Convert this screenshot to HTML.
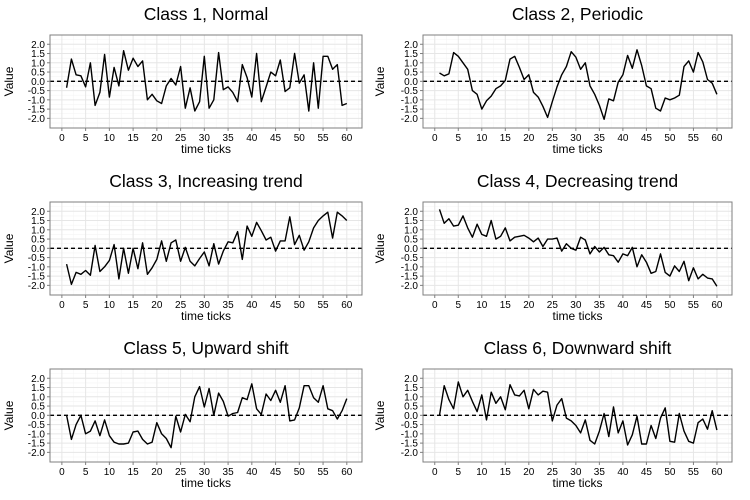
<!DOCTYPE html>
<html><head><meta charset="utf-8"><style>
body{margin:0;background:#fff;}
svg{display:block;font-family:"Liberation Sans",Arial,sans-serif;}
</style></head><body>
<svg id="chart" width="750" height="500"></svg>
<script>
const titles=["Class 1, Normal","Class 2, Periodic","Class 3, Increasing trend","Class 4, Decreasing trend","Class 5, Upward shift","Class 6, Downward shift"];
const yTicks=[2.0,1.5,1.0,0.5,0.0,-0.5,-1.0,-1.5,-2.0];
const xTicks=[0,5,10,15,20,25,30,35,40,45,50,55,60];
const s1=[-0.35,1.2,0.35,0.3,-0.3,1.0,-1.3,-0.6,1.45,-0.85,0.75,-0.25,1.65,0.6,1.25,0.8,1.1,-1.0,-0.7,-1.05,-1.2,-0.25,0.15,-0.2,0.8,-1.45,-0.35,-1.6,-1.1,1.35,-1.45,-1.0,1.55,-0.45,-0.3,-0.6,-1.1,0.9,0.2,-0.85,1.5,-1.1,-0.3,0.5,0.3,1.15,-0.55,-0.35,1.5,-0.1,0.35,-1.6,1.0,-1.45,1.35,1.35,0.65,0.9,-1.3,-1.2];
const s2=[0.45,0.3,0.4,1.55,1.35,1.0,0.65,-0.5,-0.7,-1.5,-1.05,-0.8,-0.4,-0.25,0.05,1.2,1.35,0.75,0.1,0.35,-0.6,-0.85,-1.35,-1.95,-1.1,-0.3,0.35,0.8,1.6,1.3,0.65,1.0,-0.25,-0.7,-1.3,-2.05,-0.95,-1.05,-0.05,0.35,1.4,0.7,1.7,0.85,-0.25,-0.4,-1.45,-1.6,-0.9,-1.0,-0.9,-0.75,0.8,1.1,0.5,1.55,1.05,0.1,-0.1,-0.7];
const s3=[-0.85,-1.95,-1.3,-1.4,-1.2,-1.45,0.15,-1.25,-1.0,-0.65,0.2,-1.65,0.0,-1.35,0.0,-1.1,0.3,-1.4,-1.05,-0.6,0.4,-0.7,0.3,0.45,-0.7,0.05,-0.7,-0.95,-0.55,-0.2,-0.95,0.25,-0.85,-0.15,0.35,0.3,0.9,-0.6,1.2,0.65,1.4,0.95,0.45,0.6,-0.15,0.4,0.4,1.7,0.2,0.7,-0.1,0.35,1.1,1.5,1.75,1.95,0.55,1.95,1.75,1.5];
const s4=[2.1,1.35,1.6,1.2,1.25,1.75,1.1,0.6,1.3,0.75,0.65,1.5,0.5,0.65,1.1,0.4,0.6,0.65,0.7,0.55,0.35,0.55,0.1,0.5,0.5,0.55,-0.15,0.25,0.0,-0.1,0.6,0.45,-0.3,0.1,-0.2,0.05,-0.35,-0.4,-0.75,-0.3,-0.4,0.05,-1.0,-0.35,-0.75,-1.35,-1.25,-0.3,-1.3,-1.5,-0.95,-1.25,-0.7,-1.75,-1.05,-1.65,-1.4,-1.6,-1.65,-2.05];
const s5=[0.0,-1.3,-0.5,0.0,-1.0,-0.85,-0.3,-1.1,-0.25,-1.1,-1.45,-1.55,-1.55,-1.5,-0.9,-0.85,-1.3,-1.55,-1.45,-0.4,-1.0,-1.25,-1.75,-0.05,-0.9,0.05,-0.35,1.0,1.55,0.45,1.45,0.0,1.2,0.75,-0.05,0.1,0.15,0.95,0.85,1.7,0.35,0.05,1.15,0.8,1.35,0.7,1.6,-0.3,-0.25,0.4,1.6,1.6,0.95,0.7,1.6,0.35,0.25,-0.2,0.25,0.9];
const s6=[0.0,1.6,0.85,0.35,1.8,1.0,1.35,0.75,0.2,1.1,-0.25,1.25,0.65,1.0,0.3,1.65,1.1,1.05,1.35,0.35,1.4,1.1,1.3,1.25,-0.3,0.55,0.9,-0.15,-0.3,-0.55,-0.95,-0.25,-1.35,-1.55,-0.85,0.1,-1.15,0.45,-0.95,-0.3,-1.6,-1.05,-0.05,-1.55,-1.55,-0.55,-1.25,-0.15,0.4,-1.4,-1.45,0.1,-0.85,-1.4,-1.5,-0.4,-0.2,-0.75,0.25,-0.8];
const series=[s1,s2,s3,s4,s5,s6];

const NS="http://www.w3.org/2000/svg";
const svg=document.getElementById('chart');
function mk(tag,attrs,parent){const e=document.createElementNS(NS,tag);for(const k in attrs)e.setAttribute(k,attrs[k]);parent.appendChild(e);return e;}
const XMIN=-2.5,XMAX=63.2,YMIN=-2.52,YMAX=2.5;
for(let p=0;p<6;p++){
  const col=p%2,row=Math.floor(p/2);
  const L=col?423:50,R=col?732:362,T=35+row*167,B=128+row*167;
  const xs=v=>L+(v-XMIN)/(XMAX-XMIN)*(R-L);
  const ys=v=>B-(v-YMIN)/(YMAX-YMIN)*(B-T);
  const g=mk('g',{},svg);
  
  
  const t=mk('text',{x:(L+R)/2,y:T-15,'text-anchor':'middle','font-size':'17.5',fill:'#000'},g);
  t.textContent=titles[p];
  
  
  mk('rect',{x:L,y:T,width:R-L,height:B-T,fill:'#fff'},g);
  for(let v=-2.25;v<=2.3;v+=0.5)mk('line',{x1:L,x2:R,y1:ys(v),y2:ys(v),stroke:'#f5f5f5','stroke-width':0.6},g);
  for(let v=-2.5;v<=63;v+=5)mk('line',{x1:xs(v),x2:xs(v),y1:T,y2:B,stroke:'#f5f5f5','stroke-width':0.6},g);
  yTicks.forEach(v=>{mk('line',{x1:L,x2:R,y1:ys(v),y2:ys(v),stroke:'#e6e6e6','stroke-width':1},g);
    mk('line',{x1:L-3,x2:L,y1:ys(v),y2:ys(v),stroke:'#7f7f7f','stroke-width':1},g);
    const tl=mk('text',{x:L-5,y:ys(v)+3.5,'text-anchor':'end','font-size':'10',fill:'#000'},g);
    tl.textContent=v.toFixed(1);
    
    });
  xTicks.forEach(v=>{mk('line',{x1:xs(v),x2:xs(v),y1:T,y2:B,stroke:'#e6e6e6','stroke-width':1},g);
    mk('line',{x1:xs(v),x2:xs(v),y1:B,y2:B+3,stroke:'#7f7f7f','stroke-width':1},g);
    const tl=mk('text',{x:xs(v),y:B+13,'text-anchor':'middle','font-size':'10',fill:'#000'},g);
    tl.textContent=v;
    
    });
  mk('line',{x1:L,x2:R,y1:ys(0),y2:ys(0),stroke:'#000','stroke-width':1.3,'stroke-dasharray':'4,3'},g);
  const pts=series[p].map((v,i)=>xs(i+1).toFixed(1)+','+ys(v).toFixed(1)).join(' ');
  const pl=mk('polyline',{points:pts,fill:'none',stroke:'#000','stroke-width':1.4,'stroke-linejoin':'round'},g);
  
  
  mk('rect',{x:L,y:T,width:R-L,height:B-T,fill:'none',stroke:'#7f7f7f','stroke-width':1},g);
  const xl=mk('text',{x:(L+R)/2,y:B+25,'text-anchor':'middle','font-size':'12',fill:'#000'},g);
  xl.textContent='time ticks';
  
  
  const yx=col?384:13,yy=(T+B)/2;
  const yl=mk('text',{x:yx,y:yy,'text-anchor':'middle','font-size':'12',fill:'#000',transform:`rotate(-90 ${yx} ${yy})`},g);
  yl.textContent='Value';
  
  
}
</script>
</body></html>
